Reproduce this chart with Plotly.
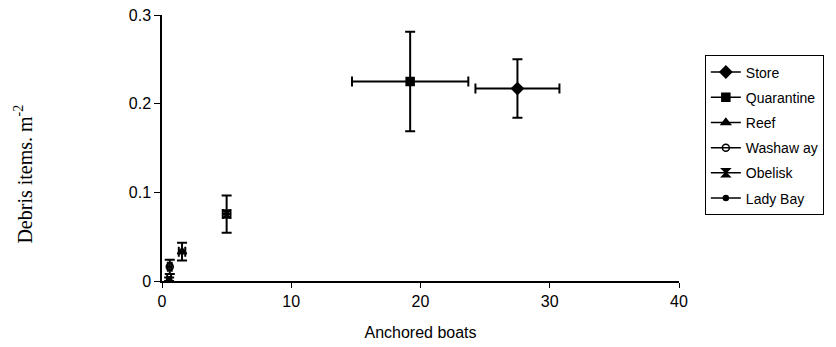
import plotly.graph_objects as go

# Site means with standard errors
sites = ["Store", "Quarantine", "Reef", "Washaway", "Obelisk", "Lady Bay"]
legend_names = ["Store", "Quarantine", "Reef", "Washaw ay", "Obelisk", "Lady Bay"]
boats = [27.5, 19.2, 1.55, 0.6, 5.0, 0.55]
boats_err = [3.25, 4.5, 0.25, 0.15, 0.3, 0.15]
debris = [0.217, 0.225, 0.033, 0.016, 0.0755, 0.002]
debris_err = [0.033, 0.056, 0.010, 0.008, 0.021, 0.002]

symbols = ["diamond", "square", "triangle-up", "circle-open", "hourglass", "circle"]
sizes = [9, 8, 8, 7, 8, 5]

x_ticks = [0, 10, 20, 30, 40]
y_ticks = [0, 0.1, 0.2, 0.3]
y_tick_text = ["0", "0.1", "0.2", "0.3"]

fig = go.Figure()
for name, label, x, xe, y, ye, sym, sz in zip(
    sites, legend_names, boats, boats_err, debris, debris_err, symbols, sizes
):
    fig.add_trace(
        go.Scatter(
            x=[x],
            y=[y],
            name=label,
            legendgroup=name,
            mode="lines+markers",
            line=dict(color="black", width=1.5),
            marker=dict(symbol=sym, size=sz, color="black",
                        line=dict(color="black", width=1.5)),
            error_x=dict(type="constant", value=xe, color="black",
                         thickness=2, width=5),
            error_y=dict(type="constant", value=ye, color="black",
                         thickness=2, width=5),
        )
    )

fig.update_layout(
    width=836,
    height=347,
    margin=dict(l=162, r=154, t=15, b=66),
    paper_bgcolor="white",
    plot_bgcolor="white",
    font=dict(family="Liberation Sans, Arial", color="black", size=16),
    showlegend=True,
    legend=dict(
        x=1.05, y=0.848, xanchor="left", yanchor="top",
        bordercolor="black", borderwidth=1, bgcolor="white",
        font=dict(size=14, family="Liberation Sans, Arial", color="black"),
        tracegroupgap=4,
    ),
    xaxis=dict(
        range=[0, 40], tickvals=x_ticks, showgrid=False, zeroline=False,
        showline=True, linecolor="black", linewidth=1.5,
        ticks="outside", ticklen=5, tickcolor="black",
        tickfont=dict(size=16), automargin=False,
        title=dict(text="Anchored boats", font=dict(size=16), standoff=18),
    ),
    yaxis=dict(
        range=[0, 0.3], tickvals=y_ticks, ticktext=y_tick_text,
        showgrid=False, zeroline=False, automargin=False,
        showline=True, linecolor="black", linewidth=1.5,
        ticks="outside", ticklen=6, tickcolor="black",
        tickfont=dict(size=16),
    ),
    annotations=[
        dict(
            text="Debris items. m<sup>-2</sup>",
            xref="paper", yref="paper", x=0, y=0.40,
            xshift=-139, xanchor="center", yanchor="middle",
            textangle=-90, showarrow=False,
            font=dict(family="Liberation Serif, Times New Roman", size=20,
                      color="black"),
        )
    ],
)

fig.write_html("out.html")
